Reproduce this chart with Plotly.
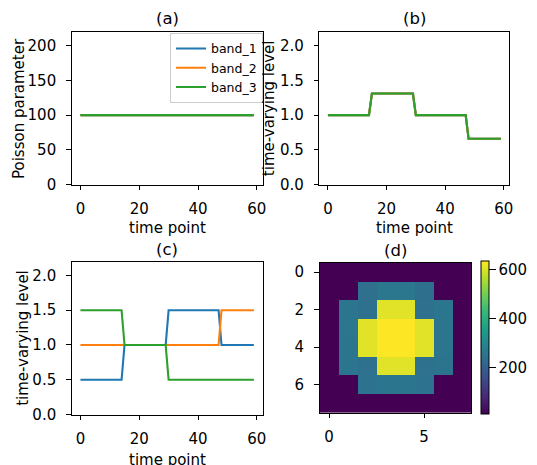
import plotly.graph_objects as go

W, H = 537, 465

# ---------------- data ----------------
time_points = list(range(60))
band_names = ["band_1", "band_2", "band_3"]
band_colors = ["#1f77b4", "#ff7f0e", "#2ca02c"]

# (a) Poisson parameter per band (constant)
poisson_b1 = [100] * 60
poisson_b2 = [100] * 60
poisson_b3 = [100] * 60

# (b) common time-varying level (identical for all bands)
level_common = [1.0] * 15 + [1.31] * 15 + [1.0] * 18 + [0.66] * 12

# (c) band-specific time-varying levels
level_b1 = [0.5] * 15 + [1.0] * 15 + [1.5] * 18 + [1.0] * 12
level_b2 = [1.0] * 48 + [1.5] * 12
level_b3 = [1.5] * 15 + [1.0] * 15 + [0.5] * 30

# (d) image values
image_z = [
    [11, 11, 11, 11, 11, 11, 11, 11],
    [11, 11, 240, 258, 258, 238, 11, 11],
    [11, 256, 242, 605, 605, 240, 252, 11],
    [11, 258, 605, 633, 633, 605, 256, 11],
    [11, 256, 605, 633, 633, 605, 256, 11],
    [11, 252, 242, 605, 605, 242, 250, 11],
    [11, 11, 245, 256, 256, 245, 11, 11],
    [11, 11, 11, 11, 11, 11, 11, 11],
]
image_cols = list(range(8))
image_rows = list(range(8))
colorbar_ticks = [200, 400, 600]

# ---------------- layout helpers ----------------
FONT = "DejaVu Sans"
def px_x(p):
    return p / W
def px_y(p):
    return 1 - p / H

A = dict(l=72.3, r=264.5, t=32.3, b=188.3)
B = dict(l=321.7, r=513.3, t=32.3, b=188.3)
C = dict(l=72.3, r=264.5, t=266.7, b=422.7)
D = dict(l=322.0, r=475.0, t=268.0, b=421.0)

fig = go.Figure()

# (a)
for name, col, ys in zip(band_names, band_colors, [poisson_b1, poisson_b2, poisson_b3]):
    fig.add_trace(go.Scatter(x=time_points, y=ys, mode="lines", name=name,
                             line=dict(color=col, width=2.1),
                             xaxis="x", yaxis="y", showlegend=True))
# (b)
for name, col in zip(band_names, band_colors):
    fig.add_trace(go.Scatter(x=time_points, y=level_common, mode="lines", name=name,
                             line=dict(color=col, width=2.1),
                             xaxis="x2", yaxis="y2", showlegend=False))
# (c)
for name, col, ys in zip(band_names, band_colors, [level_b1, level_b2, level_b3]):
    fig.add_trace(go.Scatter(x=time_points, y=ys, mode="lines", name=name,
                             line=dict(color=col, width=2.1),
                             xaxis="x3", yaxis="y3", showlegend=False))
# (d)
fig.add_trace(go.Heatmap(
    z=image_z, x=image_cols, y=image_rows, colorscale="Viridis",
    xaxis="x4", yaxis="y4", showscale=True,
    colorbar=dict(
        x=px_x(484.3), xanchor="left", thickness=7.5, thicknessmode="pixels",
        y=px_y((266.7 + 422.3) / 2), yanchor="middle",
        len=(422.3 - 266.7) / H, lenmode="fraction",
        outlinewidth=1, outlinecolor="black",
        tickvals=colorbar_ticks, ticks="outside", ticklen=6.5, tickwidth=1,
        tickcolor="black",
        tickfont=dict(family=FONT, size=15, color="black"),
        xpad=0, ypad=0,
    ),
))

def axis_common(**kw):
    d = dict(showline=True, linecolor="black", linewidth=1.1, mirror=True,
             ticks="outside", ticklen=4.5, tickwidth=1.1, tickcolor="black",
             showgrid=False, zeroline=False,
             tickfont=dict(family=FONT, size=15, color="black"))
    d.update(kw)
    return d

XSO, YSO = 6, 7

fig.update_layout(
    width=W, height=H,
    margin=dict(l=0, r=0, t=0, b=0),
    paper_bgcolor="white", plot_bgcolor="white",
    font=dict(family=FONT, size=15, color="black"),
    xaxis=axis_common(domain=[px_x(A["l"]), px_x(A["r"])], range=[-2.95, 61.95],
                      tickvals=[0, 20, 40, 60], anchor="y", ticklabelstandoff=XSO),
    yaxis=axis_common(domain=[px_y(A["b"]), px_y(A["t"])], range=[0, 220],
                      tickvals=[0, 50, 100, 150, 200], anchor="x", ticklabelstandoff=YSO),
    xaxis2=axis_common(domain=[px_x(B["l"]), px_x(B["r"])], range=[-2.95, 61.95],
                       tickvals=[0, 20, 40, 60], anchor="y2", ticklabelstandoff=XSO),
    yaxis2=axis_common(domain=[px_y(B["b"]), px_y(B["t"])], range=[0, 2.2],
                       tickvals=[0, 0.5, 1.0, 1.5, 2.0], tickformat=".1f", anchor="x2",
                       ticklabelstandoff=YSO),
    xaxis3=axis_common(domain=[px_x(C["l"]), px_x(C["r"])], range=[-2.95, 61.95],
                       tickvals=[0, 20, 40, 60], anchor="y3", ticklabelstandoff=XSO),
    yaxis3=axis_common(domain=[px_y(C["b"]), px_y(C["t"])], range=[0, 2.2],
                       tickvals=[0, 0.5, 1.0, 1.5, 2.0], tickformat=".1f", anchor="x3",
                       ticklabelstandoff=YSO),
    xaxis4=axis_common(domain=[px_x(D["l"]), px_x(D["r"])], range=[-0.5, 7.5],
                       tickvals=[0, 5], anchor="y4", ticklabelstandoff=XSO),
    yaxis4=axis_common(domain=[px_y(D["b"]), px_y(D["t"])], range=[7.5, -0.5],
                       tickvals=[0, 2, 4, 6], anchor="x4", ticklabelstandoff=YSO),
    legend=dict(
        x=px_x(265), xanchor="right", y=px_y(33.5), yanchor="top",
        bgcolor="rgba(255,255,255,0.8)", bordercolor="#cccccc", borderwidth=1,
        font=dict(family=FONT, size=12.5, color="black"),
        tracegroupgap=0, itemwidth=30,
    ),
)

annots = [
    # titles
    dict(text="(a)", x=(A["l"] + A["r"]) / 2, y=19),
    dict(text="(b)", x=(B["l"] + B["r"]) / 2, y=19),
    dict(text="(c)", x=(C["l"] + C["r"]) / 2, y=254),
    dict(text="(d)", x=(D["l"] + D["r"]) / 2, y=255),
    # x labels
    dict(text="time point", x=(A["l"] + A["r"]) / 2, y=233),
    dict(text="time point", x=(B["l"] + B["r"]) / 2, y=233),
    dict(text="time point", x=(C["l"] + C["r"]) / 2, y=469),
]
for a in annots:
    size = 16.5 if a["text"].startswith("(") else 15
    fig.add_annotation(text=a["text"], xref="paper", yref="paper",
                       x=px_x(a["x"]), y=px_y(a["y"]), xanchor="center", yanchor="middle",
                       showarrow=False, font=dict(family=FONT, size=size, color="black"))

ylabels = [
    dict(text="Poisson parameter", x=19, y=(A["t"] + A["b"]) / 2),
    dict(text="time-varying level", x=271, y=(B["t"] + B["b"]) / 2),
    dict(text="time-varying level", x=23, y=(C["t"] + C["b"]) / 2),
]
for a in ylabels:
    fig.add_annotation(text=a["text"], xref="paper", yref="paper",
                       x=px_x(a["x"]), y=px_y(a["y"]), xanchor="center", yanchor="middle",
                       textangle=-90, showarrow=False,
                       font=dict(family=FONT, size=15, color="black"))

fig.write_html("out.html",
               config={"displayModeBar": False},
               post_script="document.body.style.margin='0';document.body.style.padding='0';")
